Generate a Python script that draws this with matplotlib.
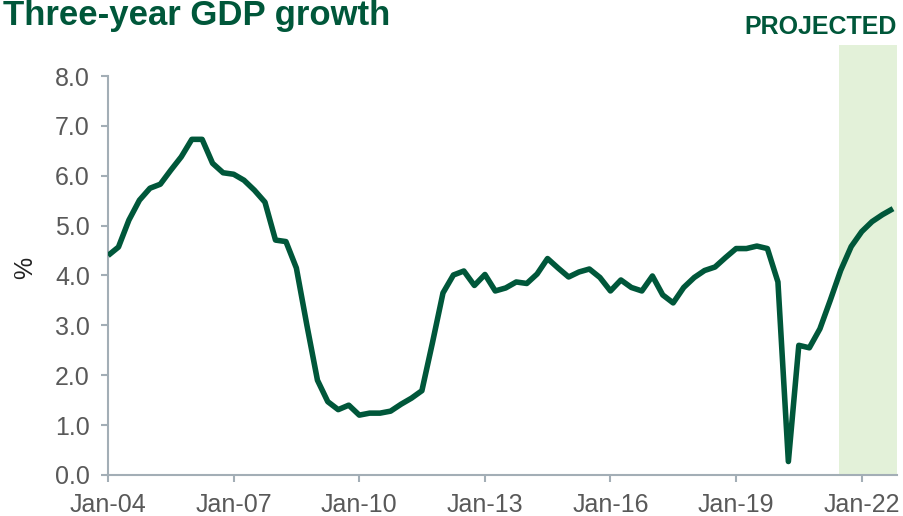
import matplotlib
matplotlib.use("Agg")
from matplotlib import pyplot as plt
import matplotlib.dates as mdates
from matplotlib.patches import Rectangle
import pandas as pd

# quarterly three-year GDP growth, Q1 2004 .. Q4 2022 (%)
quarters = pd.date_range("2004-01-01", periods=76, freq="QS")
growth = [
    4.40, 4.57, 5.11, 5.51, 5.75, 5.83, 6.11, 6.38, 6.73, 6.73,
    6.25, 6.06, 6.03, 5.91, 5.71, 5.47, 4.71, 4.68, 4.15, 3.00,
    1.90, 1.47, 1.31, 1.40, 1.20, 1.24, 1.24, 1.28, 1.42, 1.54,
    1.69, 2.65, 3.65, 4.01, 4.09, 3.80, 4.02, 3.69, 3.75, 3.87,
    3.84, 4.03, 4.34, 4.15, 3.97, 4.07, 4.13, 3.96, 3.69, 3.91,
    3.76, 3.69, 3.99, 3.61, 3.45, 3.76, 3.96, 4.10, 4.17, 4.36,
    4.54, 4.54, 4.59, 4.54, 3.87, 0.27, 2.60, 2.55, 2.93, 3.50,
    4.10, 4.58, 4.88, 5.08, 5.22, 5.34,
]
proj_start = pd.Timestamp("2021-06-15")
x_end = pd.Timestamp("2022-11-05")

green = "#00573A"
grey = "#595959"
axis_col = "#A3AEB6"

plt.rcParams["font.family"] = ["Liberation Sans", "DejaVu Sans"]

fig = plt.figure(figsize=(9.04, 5.16), dpi=100)
ax = fig.add_axes([0.1195, 0.0795, 0.8728, 0.7732])

# projected period, shaded a little above the top of the axes
x0 = mdates.date2num(proj_start)
x1 = mdates.date2num(x_end)
shade = Rectangle((x0, 0), x1 - x0, 1.078, transform=ax.get_xaxis_transform(),
                  facecolor="#E3F1D9", edgecolor="none", clip_on=False, zorder=0)
ax.add_patch(shade)

ax.plot(quarters, growth, color=green, lw=4, solid_joinstyle="round",
        solid_capstyle="butt", zorder=3)

ax.set_xlim(mdates.date2num(quarters[0]), x1)
ax.set_ylim(0, 8)
ax.set_yticks([0, 1, 2, 3, 4, 5, 6, 7, 8])
ax.yaxis.set_major_formatter(plt.FormatStrFormatter("%.1f"))
ax.xaxis.set_major_locator(mdates.YearLocator(3, month=1, day=1))
ax.xaxis.set_major_formatter(mdates.DateFormatter("%b-%y"))

for s in ["top", "right"]:
    ax.spines[s].set_visible(False)
for s in ["left", "bottom"]:
    ax.spines[s].set_color(axis_col)
    ax.spines[s].set_linewidth(1.5)
ax.tick_params(axis="both", colors=axis_col, width=1.5, length=5,
               labelsize=18, labelcolor=grey)
ax.tick_params(axis="y", pad=8)
ax.tick_params(axis="x", pad=8)

ax.set_ylabel("%", fontsize=18, color="#222222")
ax.yaxis.set_label_coords(-0.09, 0.52)

fig.text(0.003, 0.951, "Three-year GDP growth", fontsize=25, fontweight="bold",
         color=green, ha="left", va="baseline")
fig.text(0.9923, 0.934, "PROJECTED", fontsize=18, fontweight="bold",
         color=green, ha="right", va="baseline")

fig.savefig("out.png", dpi=100)
